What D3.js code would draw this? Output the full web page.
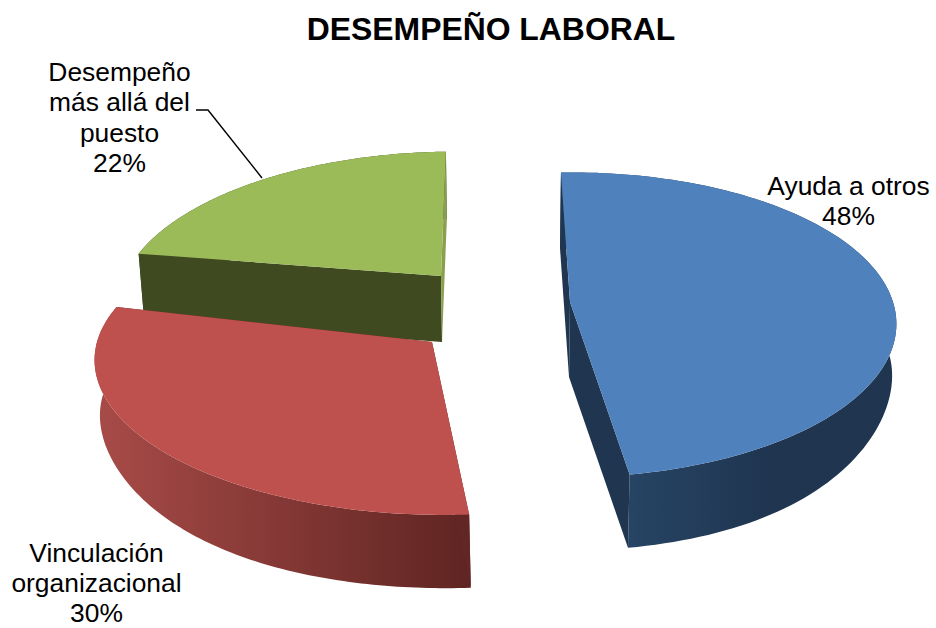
<!DOCTYPE html>
<html><head><meta charset="utf-8">
<script src="https://cdnjs.cloudflare.com/ajax/libs/d3/7.8.5/d3.min.js"></script>
<style>html,body{margin:0;background:#fff}svg{display:block}text{font-family:"Liberation Sans",Arial,sans-serif;fill:#000}</style>
</head><body><svg id="c" width="936" height="628"></svg>
<script>
const categories = ["Ayuda a otros","Vinculación organizacional","Desempeño más allá del puesto"];
const values = [48,30,22];
const chartTitle = "DESEMPEÑO LABORAL";
const labelLines = [["Ayuda a otros","48%"],["Vinculación","organizacional","30%"],["Desempeño","más allá del","puesto","22%"]];
const topColors = ["#4f81bd","#be504d","#9bbb59"];
const startWall = ["#1f3550","#622724","#3f4a20"];
const endWall = ["#1f3550","#622724","#8aa050"];
const gradFrom = ["#274464","#a84b48","#3f4a20"];
const gradTo = ["#1f3550","#5f2522","#3f4a20"];

// placement of each exploded slice
const apexX=[570,432,441], apexY=[302,342,276];
const radX=[323,335,316], radY=[149,147,143], skew=[-2,10,-14.5];
const turn=[-2.2,3.5,-1.6];
const botDy=[75,75,66], botX=[-1,2,1], botS=[.99,.99,.985], botLift=[24,20,0];
const persp=0.15;

const svg=d3.select("#c");
const defs=svg.append("defs");
const pie=d3.pie().sort(null).value(d=>d);
const arcs=pie(values);
const toRad=d3.scaleLinear().domain([0,360]).range([0,2*Math.PI]);

function proj(i,a,bottom){
  const X=Math.sin(a),Y=-Math.cos(a),s=1/(1-persp*Y);
  const k=bottom?botS[i]:1;
  return [apexX[i]+(bottom?botX[i]:0)+k*(radX[i]*X+skew[i]*Y)*s,
          apexY[i]+(bottom?botDy[i]-botLift[i]*X*X*X*X:0)+k*radY[i]*Y*s];
}
function apex(i,bottom){return [apexX[i]+(bottom?botX[i]:0),apexY[i]+(bottom?botDy[i]:0)];}
function rim(i,a0,a1,bottom){
  return d3.range(0,121).map(t=>proj(i,a0+(a1-a0)*t/120,bottom));
}
const line=d3.line().curve(d3.curveLinear);

[2,1,0].forEach(i=>{
  const a0=arcs[i].startAngle+toRad(turn[i]), a1=arcs[i].endAngle+toRad(turn[i]);
  const g=svg.append("g");
  const gid="g"+i;
  const top=rim(i,a0,a1,false), bot=rim(i,a0,a1,true);
  const lg=defs.append("linearGradient").attr("id",gid).attr("gradientUnits","userSpaceOnUse")
    .attr("x1",d3.min(top,d=>d[0])).attr("x2",d3.max(top,d=>d[0])).attr("y1",0).attr("y2",0);
  if(i===0){lg.attr("x1",630).attr("x2",770);}
  lg.append("stop").attr("offset",0).attr("stop-color",gradFrom[i]);
  lg.append("stop").attr("offset",1).attr("stop-color",gradTo[i]);
  const A=apex(i,false),B=apex(i,true);
  // outer wall first, radial walls over it, top face last
  g.append("path").attr("d",line(top.concat(bot.slice().reverse()))+"Z").attr("fill",`url(#${gid})`);
  g.append("path").attr("d",line([A,top[0],bot[0],B])+"Z").attr("fill",startWall[i]);
  g.append("path").attr("d",line([A,top[120],bot[120],B])+"Z").attr("fill",endWall[i]);
  g.append("path").attr("d",line([A].concat(top))+"Z").attr("fill",topColors[i]);
});

svg.append("path").attr("d","M196,110H208L262,178").attr("fill","none").attr("stroke","#000").attr("stroke-width",1.4);

svg.append("text").attr("x",491).attr("y",40).attr("text-anchor","middle")
  .attr("font-size",31.9).attr("font-weight","bold").text(chartTitle);
const labelX=[848.5,96.5,119.5], labelY=[195,562,81], lh=[30.4,30,30.4];
labelLines.forEach((ls,i)=>{
  const t=svg.append("text").attr("text-anchor","middle").attr("font-size",26.4);
  ls.forEach((s,j)=>t.append("tspan").attr("x",labelX[i]).attr("y",labelY[i]+j*lh[i]).text(s));
});
</script></body></html>
